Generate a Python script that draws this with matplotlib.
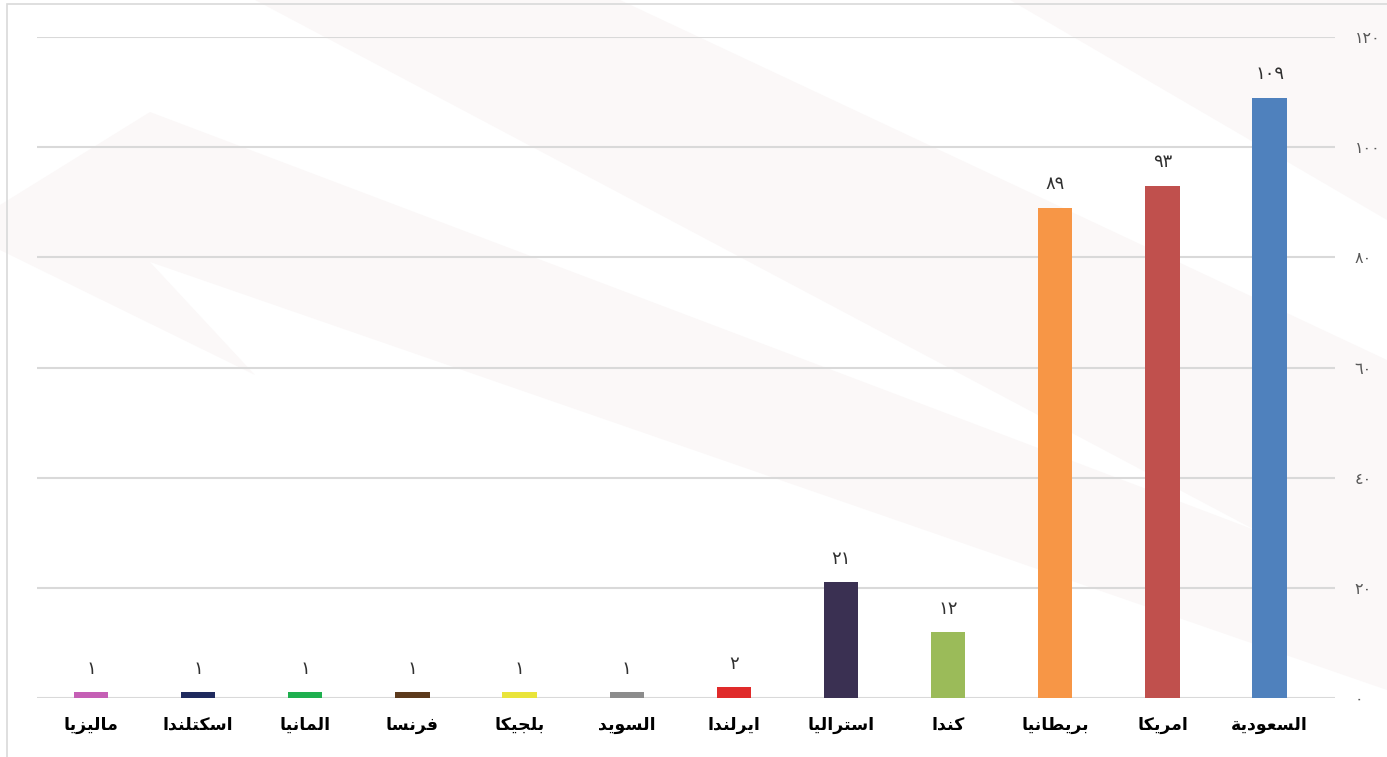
import matplotlib
matplotlib.use('Agg')
import matplotlib.pyplot as plt
from matplotlib.patches import Polygon
import numpy as np

# data, left to right as drawn
countries = ['ماليزيا', 'اسكتلندا', 'المانيا', 'فرنسا', 'بلجيكا', 'السويد',
             'ايرلندا', 'استراليا', 'كندا', 'بريطانيا', 'امريكا', 'السعودية']
values = [1, 1, 1, 1, 1, 1, 2, 21, 12, 89, 93, 109]
colors = ['#C55FB5', '#1F2A5E', '#1EAF4E', '#5C3A1C', '#E9E43A', '#8C8C8C',
          '#E02A2A', '#3A3052', '#9BBB59', '#F79646', '#C0504D', '#4F81BD']
yticks = [0, 20, 40, 60, 80, 100, 120]

# minimal arabic shaping (matplotlib has no shaping / bidi)
# letter: (isolated, final, initial, medial) ; None -> does not join to next
FORMS = {
    'ا': ('\uFE8D', '\uFE8E', None, None),
    'ب': ('\uFE8F', '\uFE90', '\uFE91', '\uFE92'),
    'ة': ('\uFE93', '\uFE94', None, None),
    'ت': ('\uFE95', '\uFE96', '\uFE97', '\uFE98'),
    'ج': ('\uFE9D', '\uFE9E', '\uFE9F', '\uFEA0'),
    'د': ('\uFEA9', '\uFEAA', None, None),
    'ر': ('\uFEAD', '\uFEAE', None, None),
    'ز': ('\uFEAF', '\uFEB0', None, None),
    'س': ('\uFEB1', '\uFEB2', '\uFEB3', '\uFEB4'),
    'ط': ('\uFEC1', '\uFEC2', '\uFEC3', '\uFEC4'),
    'ع': ('\uFEC9', '\uFECA', '\uFECB', '\uFECC'),
    'ف': ('\uFED1', '\uFED2', '\uFED3', '\uFED4'),
    'ك': ('\uFED9', '\uFEDA', '\uFEDB', '\uFEDC'),
    'ل': ('\uFEDD', '\uFEDE', '\uFEDF', '\uFEE0'),
    'م': ('\uFEE1', '\uFEE2', '\uFEE3', '\uFEE4'),
    'ن': ('\uFEE5', '\uFEE6', '\uFEE7', '\uFEE8'),
    'و': ('\uFEED', '\uFEEE', None, None),
    'ي': ('\uFEF1', '\uFEF2', '\uFEF3', '\uFEF4'),
}


def shape(word):
    out = []
    prev_joins = False
    for i, ch in enumerate(word):
        f = FORMS[ch]
        nxt = word[i + 1] if i + 1 < len(word) else None
        joins_next = f[2] is not None and nxt is not None
        if prev_joins and joins_next:
            g = f[3]
        elif prev_joins:
            g = f[1]
        elif joins_next:
            g = f[2]
        else:
            g = f[0]
        out.append(g)
        prev_joins = joins_next
    return ''.join(reversed(out))


def ar_num(n):
    return str(n).translate(str.maketrans('0123456789', '٠١٢٣٤٥٦٧٨٩'))


plt.rcParams['font.family'] = ['DejaVu Sans']
W, H = 1387, 757
fig = plt.figure(figsize=(W / 100, H / 100), dpi=100)

# faint watermark swooshes in the background (pixel coords of the figure)
def swoosh(pts, color):
    p = Polygon([(px / W, 1 - py / H) for px, py in pts], closed=True,
                transform=fig.transFigure, facecolor=color, edgecolor='none',
                zorder=0)
    fig.add_artist(p)

swoosh([(255, 0), (620, 0), (1387, 360), (1387, 600)], '#fbf8f8')
swoosh([(1010, 0), (1387, 0), (1387, 220)], '#fbf8f8')
swoosh([(0, 205), (150, 112), (1387, 580), (1387, 690), (150, 262),
        (255, 375), (0, 250)], '#fbf8f8')

ax = fig.add_axes([37.4 / W, 0.078, (1335 - 37.4) / W, 0.873])
ax.patch.set_alpha(0)

x = np.arange(len(countries))
ax.bar(x, values, width=0.32, color=colors, zorder=3)
for xi, v in zip(x, values):
    ax.text(xi, v + 2.6, ar_num(v), ha='center', va='bottom',
            fontsize=13, color='#303030')

ax.set_xlim(-0.5, len(countries) - 0.39)
ax.set_ylim(0, 120)
ax.set_yticks(yticks)
ax.set_yticklabels([ar_num(t) for t in yticks], fontsize=11.5, color='#595959')
ax.yaxis.tick_right()
ax.tick_params(axis='y', length=0, pad=14)
ax.set_xticks(x)
ax.set_xticklabels([shape(c) for c in countries], fontsize=12.5,
                   fontweight='bold', color='black')
ax.tick_params(axis='x', length=0, pad=13)
ax.grid(axis='y', color='#d9d9d9', linewidth=1.5, zorder=0)
for s in ax.spines.values():
    s.set_visible(False)

# outer frame
fig.add_artist(plt.Rectangle((0.005, -0.1), 1.2, 1.095,
                             transform=fig.transFigure, fill=False,
                             edgecolor='#d9d9d9', linewidth=1.2))

fig.savefig('out.png', dpi=100)
